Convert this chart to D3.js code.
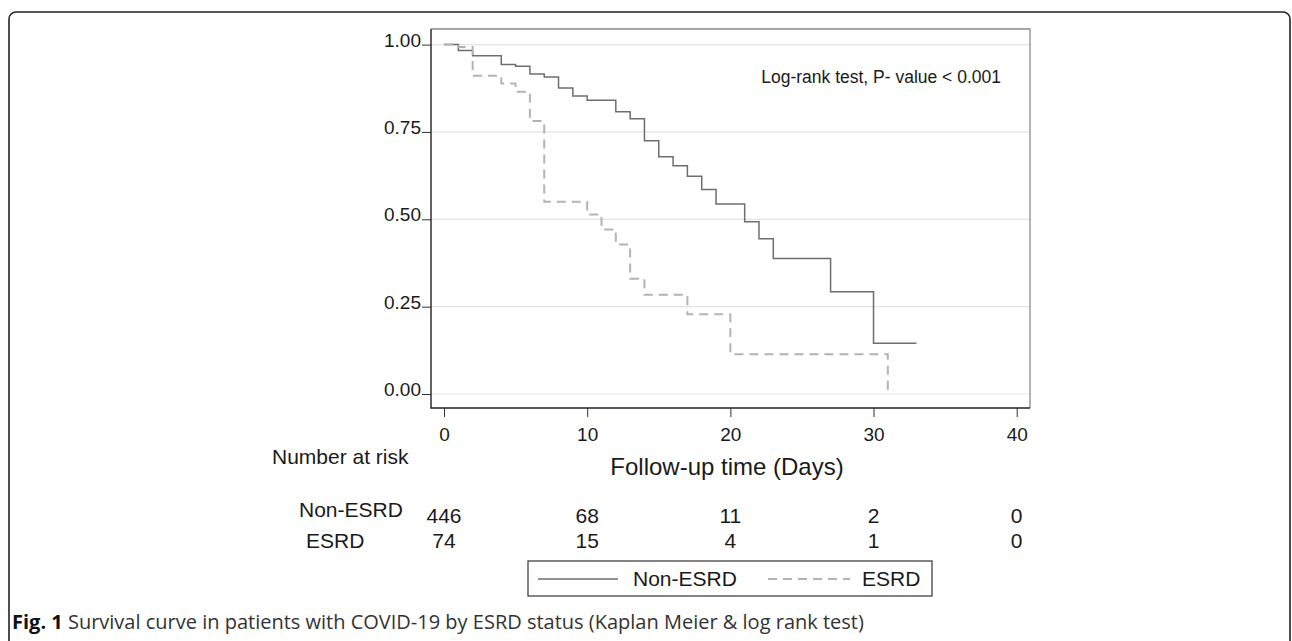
<!DOCTYPE html>
<html>
<head>
<meta charset="utf-8">
<script src="https://cdn.jsdelivr.net/npm/d3@7"></script>
<style>
  html, body { margin: 0; padding: 0; background: #fff; }
  svg { display: block; }
  .chart-text { font-family: "Liberation Sans", Arial, sans-serif; fill: #1a1a1a; }
  .caption { font-family: "Open Sans", "Noto Sans", sans-serif; fill: #333; }
</style>
</head>
<body>
<div id="chart"></div>
<script>
// survival estimates (step points, days -> S(t))
const nonEsrdTime = [0, 1, 2, 4, 5, 6, 7, 8, 9, 10, 12, 13, 14, 15, 16, 17, 18, 19, 21, 22, 23, 27, 30, 33];
const nonEsrdSurv = [1, 0.983, 0.968, 0.943, 0.938, 0.916, 0.907, 0.876, 0.853, 0.841, 0.808, 0.788,
  0.725, 0.679, 0.653, 0.623, 0.585, 0.544, 0.493, 0.444, 0.388, 0.293, 0.145, 0.145];

const esrdTime = [0, 1, 2, 4, 5, 6, 7, 10, 11, 12, 13, 14, 17, 20, 31];
const esrdSurv = [1, 0.993, 0.911, 0.889, 0.865, 0.781, 0.55, 0.514, 0.471, 0.428, 0.33, 0.284, 0.228, 0.114, 0];

// number at risk table
const riskTimes = [0, 10, 20, 30, 40];
const nonEsrdAtRisk = [446, 68, 11, 2, 0];
const esrdAtRisk = [74, 15, 4, 1, 0];

const xTicks = [0, 10, 20, 30, 40];
const yTicks = [0, 0.25, 0.5, 0.75, 1];

const groupNames = ["Non-ESRD", "ESRD"];
const pValueText = "Log-rank test, P- value < 0.001";
const xLabel = "Follow-up time (Days)";
const riskLabel = "Number at risk";

const width = 1292;
const height = 641;

// plot region (outer box) and the scale ranges inside it
const plot = { left: 431, right: 1030, top: 29, bottom: 408 };

const x = d3.scaleLinear().domain([0, 40]).range([444, 1016.7]);
const y = d3.scaleLinear().domain([0, 1]).range([394, 44.6]);

const svg = d3.select("#chart")
  .append("svg")
  .attr("width", width)
  .attr("height", height)
  .attr("viewBox", [0, 0, width, height]);

// rounded figure frame (bottom edge runs off the page)
svg.append("rect")
  .attr("x", 9)
  .attr("y", 12)
  .attr("width", 1281)
  .attr("height", 640)
  .attr("rx", 7)
  .attr("fill", "none")
  .attr("stroke", "#222")
  .attr("stroke-width", 1.6);

// gridlines
svg.append("g")
  .selectAll("line")
  .data(yTicks)
  .join("line")
  .attr("x1", plot.left)
  .attr("x2", plot.right)
  .attr("y1", (d) => y(d))
  .attr("y2", (d) => y(d))
  .attr("stroke", "#e3e3e3")
  .attr("stroke-width", 1.2);

// top + right border of the plot region
svg.append("path")
  .attr("d", `M${plot.left},${plot.top}H${plot.right}V${plot.bottom}`)
  .attr("fill", "none")
  .attr("stroke", "#8a8a8a")
  .attr("stroke-width", 1.3);

// y axis
const yAxis = d3.axisLeft(y)
  .tickValues(yTicks)
  .tickFormat(d3.format(".2f"))
  .tickSize(9)
  .tickPadding(1);

const gy = svg.append("g")
  .attr("transform", `translate(${plot.left},0)`)
  .call(yAxis);
gy.select(".domain").remove();
gy.selectAll(".tick line").attr("stroke", "#333");
gy.selectAll(".tick text")
  .attr("class", "chart-text")
  .attr("dy", "0.08em")
  .style("font-size", "19px");

// x axis
const xAxis = d3.axisBottom(x)
  .tickValues(xTicks)
  .tickSize(9)
  .tickPadding(11);

const gx = svg.append("g")
  .attr("transform", `translate(0,${plot.bottom})`)
  .call(xAxis);
gx.select(".domain").remove();
gx.selectAll(".tick line").attr("stroke", "#333");
gx.selectAll(".tick text")
  .attr("class", "chart-text")
  .style("font-size", "19px");

// left + bottom axis lines
svg.append("path")
  .attr("d", `M${plot.left},${plot.top}V${plot.bottom}H${plot.right}`)
  .attr("fill", "none")
  .attr("stroke", "#222")
  .attr("stroke-width", 1.4);

// survival curves
const line = d3.line()
  .curve(d3.curveStepAfter)
  .x((d) => x(d[0]))
  .y((d) => y(d[1]));

const series = [
  { name: groupNames[0], pts: d3.zip(nonEsrdTime, nonEsrdSurv), color: "#6e6e6e", width: 1.5, dash: null },
  { name: groupNames[1], pts: d3.zip(esrdTime, esrdSurv), color: "#b3b3b3", width: 2, dash: "9,6" },
];

svg.append("g")
  .selectAll("path")
  .data(series)
  .join("path")
  .attr("d", (d) => line(d.pts))
  .attr("fill", "none")
  .attr("stroke", (d) => d.color)
  .attr("stroke-width", (d) => d.width)
  .attr("stroke-dasharray", (d) => d.dash);

// p-value annotation
svg.append("text")
  .attr("class", "chart-text")
  .attr("x", 1001)
  .attr("y", 83)
  .attr("text-anchor", "end")
  .style("font-size", "17.5px")
  .text(pValueText);

// x label + number at risk header
svg.append("text")
  .attr("class", "chart-text")
  .attr("x", 727)
  .attr("y", 475)
  .attr("text-anchor", "middle")
  .style("font-size", "24px")
  .text(xLabel);

svg.append("text")
  .attr("class", "chart-text")
  .attr("x", 272)
  .attr("y", 464)
  .style("font-size", "21px")
  .text(riskLabel);

// risk table rows
const riskRows = [
  { name: groupNames[0], values: nonEsrdAtRisk, labelX: 299, labelY: 517, valueY: 523 },
  { name: groupNames[1], values: esrdAtRisk, labelX: 306, labelY: 548, valueY: 548 },
];

riskRows.forEach((row) => {
  svg.append("text")
    .attr("class", "chart-text")
    .attr("x", row.labelX)
    .attr("y", row.labelY)
    .style("font-size", "21px")
    .text(row.name);

  svg.append("g")
    .selectAll("text")
    .data(row.values)
    .join("text")
    .attr("class", "chart-text")
    .attr("x", (d, i) => x(riskTimes[i]))
    .attr("y", row.valueY)
    .attr("text-anchor", "middle")
    .style("font-size", "21px")
    .text((d) => d);
});

// legend
const legend = svg.append("g");
legend.append("rect")
  .attr("x", 528)
  .attr("y", 561)
  .attr("width", 404)
  .attr("height", 35)
  .attr("fill", "#fff")
  .attr("stroke", "#333")
  .attr("stroke-width", 1.2);

const legendItems = [
  { s: series[0], x0: 538, x1: 618, tx: 633 },
  { s: series[1], x0: 768, x1: 850, tx: 862 },
];
legendItems.forEach((it) => {
  legend.append("line")
    .attr("x1", it.x0)
    .attr("x2", it.x1)
    .attr("y1", 579)
    .attr("y2", 579)
    .attr("stroke", it.s.color)
    .attr("stroke-width", it.s.width)
    .attr("stroke-dasharray", it.s.dash);
  legend.append("text")
    .attr("class", "chart-text")
    .attr("x", it.tx)
    .attr("y", 586)
    .style("font-size", "21px")
    .text(it.s.name);
});

// figure caption
const caption = svg.append("text")
  .attr("class", "caption")
  .attr("x", 12)
  .attr("y", 629)
  .style("font-size", "20px");
caption.append("tspan")
  .attr("font-weight", "bold")
  .attr("fill", "#111")
  .text("Fig. 1");
caption.append("tspan")
  .text(" Survival curve in patients with COVID-19 by ESRD status (Kaplan Meier & log rank test)");
</script>
</body>
</html>
